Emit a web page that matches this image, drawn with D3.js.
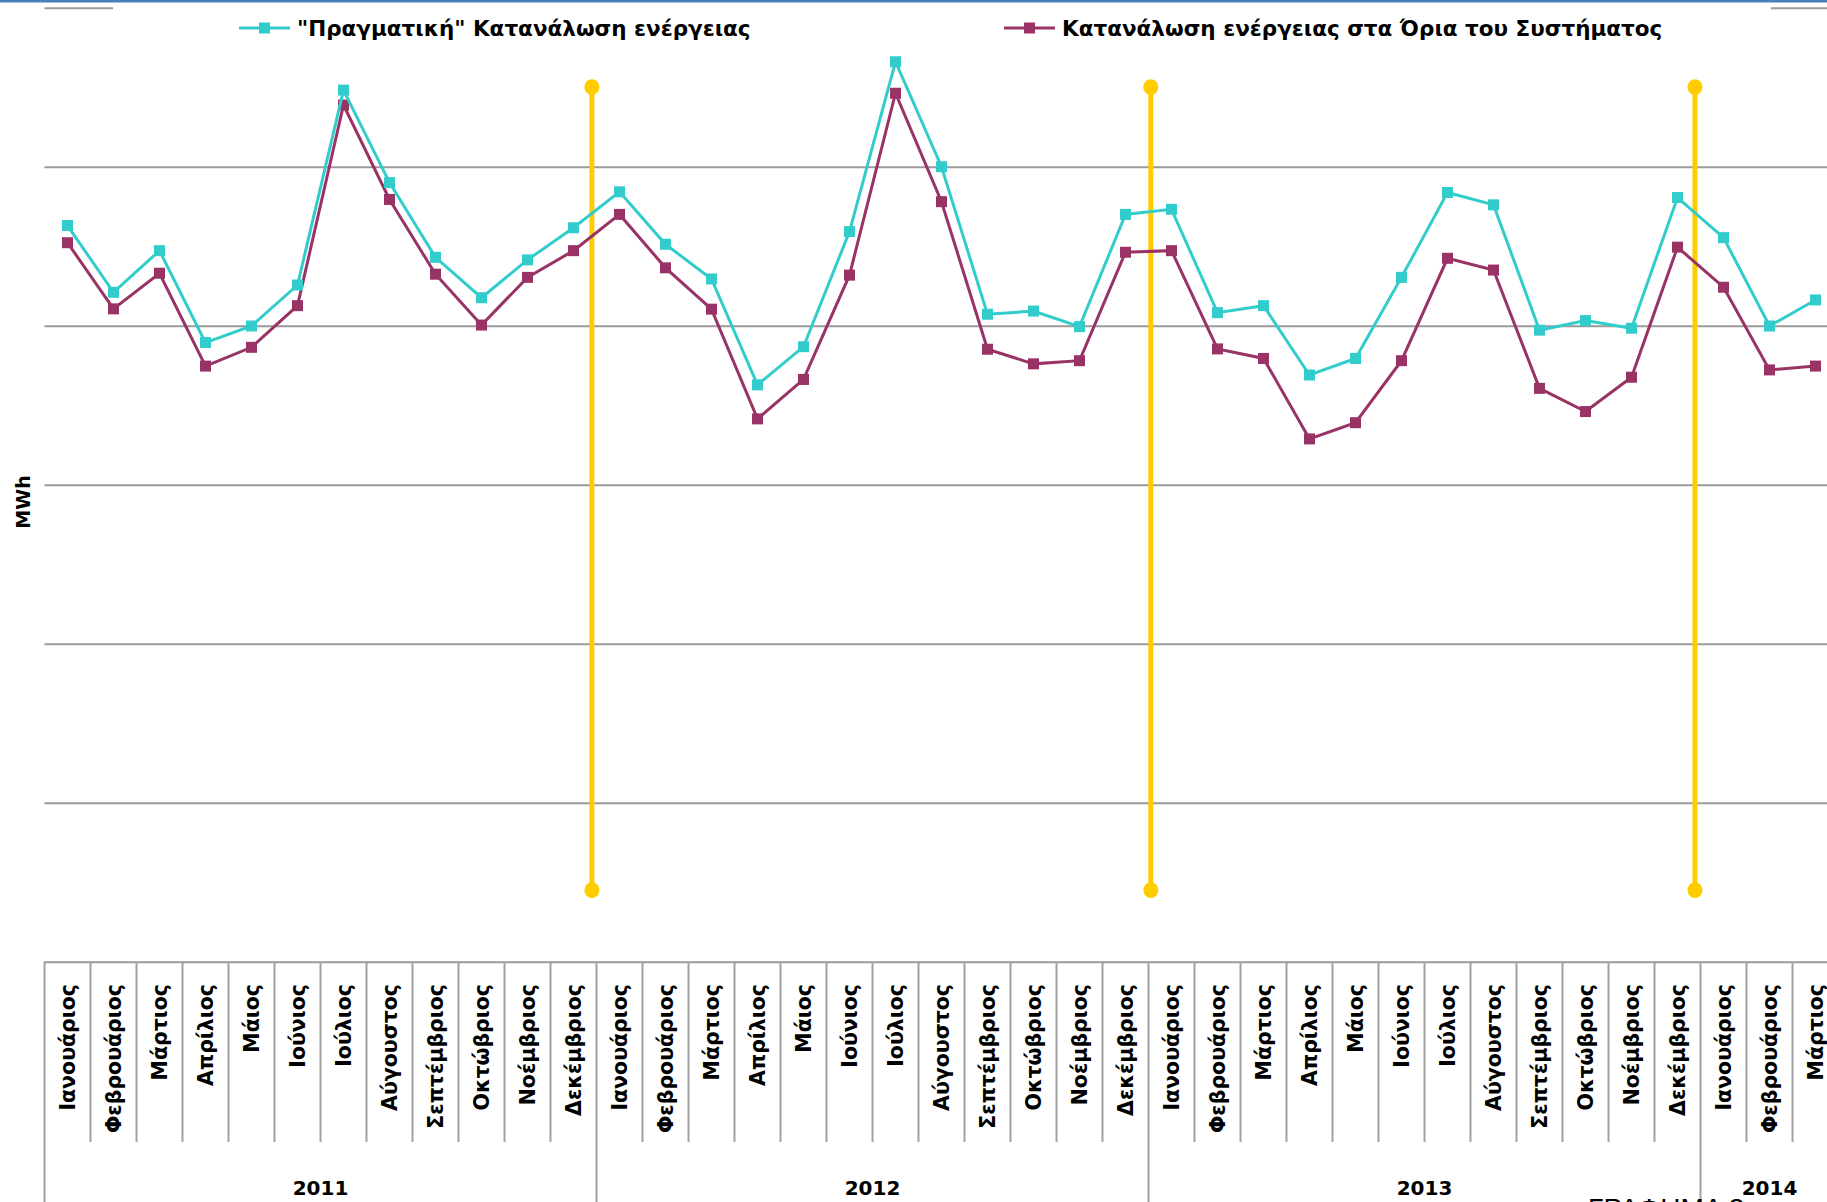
<!DOCTYPE html>
<html>
<head>
<meta charset="utf-8">
<script src="https://d3js.org/d3.v7.min.js"></script>
<style>
  body { margin: 0; background: #fff; }
  svg { display: block; }
</style>
</head>
<body>
<div id="chart"></div>
<script>
// monthly energy consumption, MWh
var years = ["2011", "2012", "2013", "2014"];
var monthsPerYear = [12, 12, 12, 3];
var monthNames = ["Ιανουάριος", "Φεβρουάριος", "Μάρτιος", "Απρίλιος", "Μάιος", "Ιούνιος",
  "Ιούλιος", "Αύγουστος", "Σεπτέμβριος", "Οκτώβριος", "Νοέμβριος", "Δεκέμβριος"];

var seriesNames = ["\"Πραγματική\" Κατανάλωση ενέργειας", "Κατανάλωση ενέργειας στα Όρια του Συστήματος"];

var realConsumption = [
  4315000, 4105000, 4236000, 3947000, 3999000, 4128000, 4741000, 4450000, 4215000, 4088000, 4207000, 4308000,
  4421000, 4256000, 4147000, 3814000, 3934000, 4296000, 4830000, 4500000, 4036000, 4046000, 3997000, 4350000,
  4366000, 4041000, 4063000, 3845000, 3897000, 4152000, 4419000, 4380000, 3986000, 4016000, 3992000, 4403000,
  4277000, 3999000, 4081000];

var systemConsumption = [
  4261000, 4053000, 4165000, 3873000, 3932000, 4063000, 4694000, 4397000, 4162000, 4002000, 4152000, 4236000,
  4350000, 4182000, 4052000, 3707000, 3831000, 4159000, 4731000, 4390000, 3926000, 3880000, 3890000, 4231000,
  4236000, 3927000, 3897000, 3644000, 3695000, 3890000, 4212000, 4175000, 3803000, 3730000, 3838000, 4247000,
  4121000, 3861000, 3873000];

var gridTicks = [2000000, 2500000, 3000000, 3500000, 4000000, 4500000, 5000000];

// yellow year markers, in month units from the start of the axis
var yearMarkers = [11.9, 24.05, 35.88];
var markerTop = 4750000, markerBottom = 2225000;

var W = 1827, H = 1202;
var left = 44.5, band = 46;
var plotTop = 7.7, plotBottom = 961.7;

// categories: one per month
var cats = [];
years.forEach(function(yr, i) {
  for (var m = 0; m < monthsPerYear[i]; m++) cats.push({ key: yr + "-" + m, year: yr, month: monthNames[m], first: m === 0 });
});

var svg = d3.select("#chart").append("svg")
  .attr("width", W).attr("height", H);

// top frame line
svg.append("rect").attr("x", 0).attr("y", 0).attr("width", W).attr("height", 2.5).attr("fill", "#4a7ebb");

var x = d3.scaleBand().domain(cats.map(function(d) { return d.key; }))
  .range([left, left + cats.length * band]).padding(0);
var y = d3.scaleLinear().domain([2000000, 5000000]).range([plotBottom, plotTop]);
var u = d3.scaleLinear().domain([0, cats.length]).range(x.range());

// gridlines
var grid = svg.append("g").attr("transform", "translate(" + left + ",0)")
  .call(d3.axisLeft(y).tickValues(gridTicks).tickSize(-(W - left + 20)).tickFormat(""));
grid.select(".domain").remove();
grid.selectAll(".tick line").attr("stroke", "#9a9a9a").attr("stroke-width", 2);

// category axis lines
var catAxis = svg.append("g").attr("class", "cat-axis");
catAxis.selectAll("line.sep").data(cats).enter().append("line")
  .attr("x1", function(d) { return x(d.key); }).attr("x2", function(d) { return x(d.key); })
  .attr("y1", plotBottom).attr("y2", function(d) { return d.first ? H : 1142; })
  .attr("stroke", "#a0a0a0").attr("stroke-width", 2);

catAxis.selectAll("text.month").data(cats).enter().append("text")
  .attr("transform", function(d) { return "translate(" + (x(d.key) + band / 2) + ",984) rotate(-90)"; })
  .attr("text-anchor", "end").attr("dy", "0.36em")
  .style("font-family", "DejaVu Sans, sans-serif").style("font-weight", "bold").style("font-size", "20.5px")
  .text(function(d) { return d.month; });

catAxis.selectAll("text.year").data(years).enter().append("text")
  .attr("x", function(yr) {
    var ks = cats.filter(function(c) { return c.year === yr; });
    return (x(ks[0].key) + x(ks[ks.length - 1].key) + band) / 2;
  })
  .attr("y", 1188).attr("dy", "0.36em").attr("text-anchor", "middle")
  .style("font-family", "DejaVu Sans, sans-serif").style("font-weight", "bold").style("font-size", "20px")
  .text(function(yr) { return yr; });

// yellow markers
var ym = svg.append("g");
yearMarkers.forEach(function(p) {
  ym.append("line").attr("x1", u(p)).attr("x2", u(p)).attr("y1", y(markerTop)).attr("y2", y(markerBottom))
    .attr("stroke", "#ffcc00").attr("stroke-width", 5);
  [markerTop, markerBottom].forEach(function(v) {
    ym.append("ellipse").attr("cx", u(p)).attr("cy", y(v)).attr("rx", 7.5).attr("ry", 8).attr("fill", "#ffcc00");
  });
});

// series
var colors = ["#33cccc", "#993366"];
var series = [realConsumption, systemConsumption];
var line = d3.line()
  .x(function(d, i) { return x(cats[i].key) + band / 2; })
  .y(function(d) { return y(d); });

[1, 0].forEach(function(s) {
  var g = svg.append("g");
  g.append("path").datum(series[s]).attr("d", line)
    .attr("fill", "none").attr("stroke", colors[s]).attr("stroke-width", 3);
  g.selectAll("rect").data(series[s]).enter().append("rect")
    .attr("x", function(d, i) { return x(cats[i].key) + band / 2 - 5.5; })
    .attr("y", function(d) { return y(d) - 5.5; })
    .attr("width", 11).attr("height", 11).attr("fill", colors[s]);
});

// y axis title
svg.append("text").attr("transform", "translate(23,502) rotate(-90)")
  .attr("text-anchor", "middle").attr("dy", "0.36em")
  .style("font-family", "DejaVu Sans, sans-serif").style("font-weight", "bold").style("font-size", "19px")
  .text("MWh");

// legend
var legend = svg.append("g");
legend.append("rect").attr("x", 113).attr("y", 3).attr("width", 1771 - 113).attr("height", 42).attr("fill", "#fff");
var legendX = [239, 1004];
seriesNames.forEach(function(name, s) {
  var lg = legend.append("g").attr("transform", "translate(" + legendX[s] + ",28)");
  lg.append("line").attr("x1", 0).attr("x2", 51).attr("stroke", colors[s]).attr("stroke-width", 3);
  lg.append("rect").attr("x", 20).attr("y", -5.5).attr("width", 11).attr("height", 11).attr("fill", colors[s]);
  lg.append("text").attr("x", 58).attr("dy", "0.36em")
    .style("font-family", "DejaVu Sans, sans-serif").style("font-weight", "bold").style("font-size", "21.5px")
    .text(name);
});

// caption, mostly cut off by the bottom edge as in the original
svg.append("text").attr("x", 1588).attr("y", 1218)
  .style("font-family", "Liberation Sans, Arial, sans-serif").style("font-size", "28px")
  .text("ΓΡΑΦΗΜΑ 3");
</script>
</body>
</html>
